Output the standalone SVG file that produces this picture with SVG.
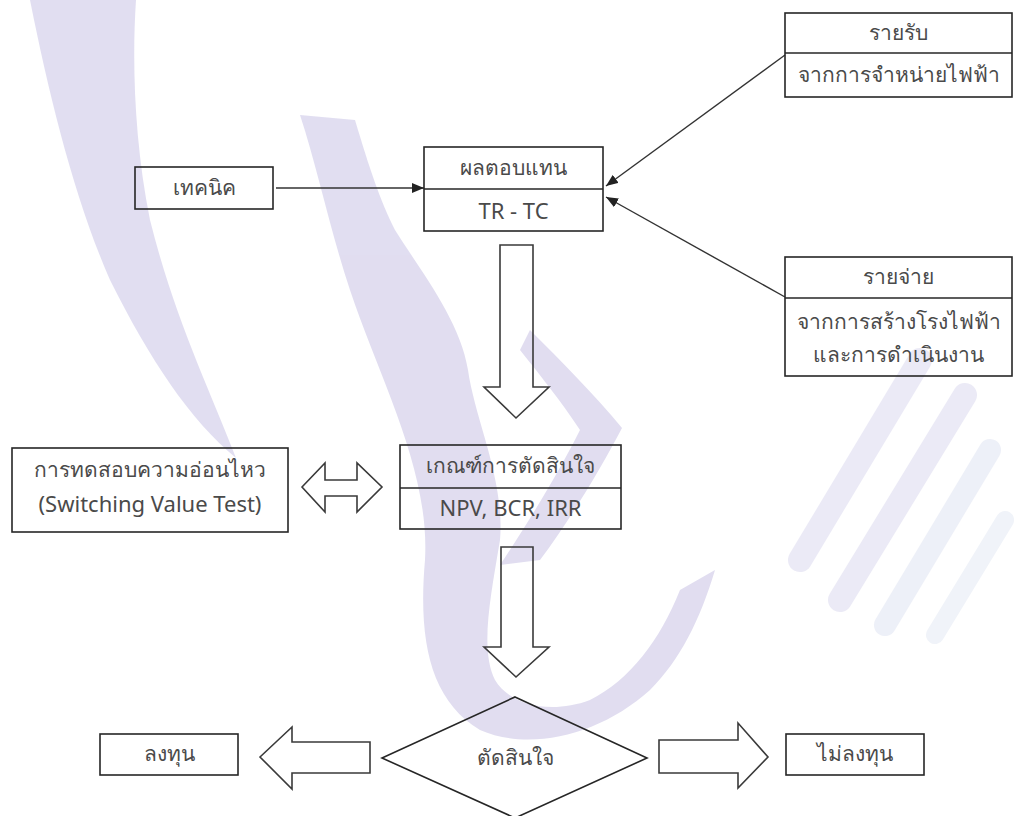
<svg xmlns="http://www.w3.org/2000/svg" width="1014" height="816" viewBox="0 0 1014 816">
<defs>
<style>
.box{fill:none;stroke:#262626;stroke-width:1.6}
.div{stroke:#262626;stroke-width:1.6}
.blk{fill:none;stroke:#3a3a3a;stroke-width:1.6;stroke-linejoin:miter}
.con{stroke:#333;stroke-width:1.4;fill:none}
.t{font-family:"Noto Sans","DejaVu Sans",sans-serif;font-size:21px;fill:#4a4a4a;text-anchor:middle;dominant-baseline:central}
.l{font-size:22px}
.wm{fill:#dcd8ee}
</style>
<marker id="ah" markerUnits="userSpaceOnUse" markerWidth="12" markerHeight="10" refX="12" refY="5" orient="auto">
<path d="M0,0 L12,5 L0,10 z" fill="#222"/>
</marker>
</defs>
<rect width="1014" height="816" fill="#fff"/>
<g id="watermark" opacity="0.85">
<path class="wm" d="M30,0 L136,0 C132,60 134,140 150,220 C175,320 210,390 236,458 C190,420 150,360 110,280 C75,200 50,100 30,0 Z"/>
<path class="wm" d="M300,115 C318,170 330,230 350,290 C380,380 430,470 425,560 C418,640 430,700 480,730 C530,752 600,735 650,690 C680,660 700,620 715,570 L680,590 C660,640 630,680 590,700 C550,715 510,705 495,680 C480,650 490,600 500,540 C505,480 475,420 468,370 C460,320 420,270 395,230 C380,200 370,170 355,120 Z"/>
<path class="wm" d="M530,330 C560,360 595,395 622,428 C600,470 570,520 540,560 L500,565 C530,520 560,470 580,430 C560,400 540,375 520,350 Z"/>
</g>
<g id="sphere" opacity="0.5">
<path d="M800,560 L920,360" stroke="#d8d6ee" stroke-width="24" stroke-linecap="round"/>
<path d="M840,600 L965,395" stroke="#d8d6ee" stroke-width="24" stroke-linecap="round"/>
<path d="M885,625 L990,450" stroke="#dde2f2" stroke-width="22" stroke-linecap="round"/>
<path d="M935,635 L1005,520" stroke="#e2e8f4" stroke-width="18" stroke-linecap="round"/>
</g>
<g id="connectors">
<line class="con" x1="276" y1="188" x2="424" y2="188" marker-end="url(#ah)"/>
<line class="con" x1="785" y1="55" x2="606" y2="186" marker-end="url(#ah)"/>
<line class="con" x1="785" y1="297" x2="606" y2="197" marker-end="url(#ah)"/>
<polygon class="blk" points="500,245 533,245 533,387 549,387 516,418 484,387 500,387"/>
<polygon class="blk" points="501,547 533,547 533,647 549,647 516,677 484,647 501,647"/>
<polygon class="blk" points="302,487 325,463 325,480 357,480 357,463 382,487 357,512 357,496 325,496 325,512"/>
<polygon class="blk" points="260,757 292,727 292,742 370,742 370,773 292,773 292,789"/>
<polygon class="blk" points="659,740 738,740 738,723 768,757 738,788 738,773 659,773"/>
</g>
<g id="n-return">
<rect class="box" x="424" y="147" width="179" height="84"/>
<line class="div" x1="424" y1="189" x2="603" y2="189"/>
<text class="t" x="513.5" y="167">ผลตอบแทน</text>
<text class="t l" x="513.5" y="210">TR - TC</text>
</g>
<g id="n-tech">
<rect class="box" x="135" y="167" width="138" height="42"/>
<text class="t" x="204" y="187">เทคนิค</text>
</g>
<g id="n-revenue">
<rect class="box" x="785" y="13" width="227" height="84"/>
<line class="div" x1="785" y1="53" x2="1012" y2="53"/>
<text class="t" x="898.5" y="32">รายรับ</text>
<text class="t" x="898.5" y="74">จากการจำหน่ายไฟฟ้า</text>
</g>
<g id="n-cost">
<rect class="box" x="785" y="257" width="227" height="119"/>
<line class="div" x1="785" y1="298" x2="1012" y2="298"/>
<text class="t" x="898.5" y="276">รายจ่าย</text>
<text class="t" x="898.5" y="321">จากการสร้างโรงไฟฟ้า</text>
<text class="t" x="898.5" y="354">และการดำเนินงาน</text>
</g>
<g id="n-sens">
<rect class="box" x="12" y="448" width="276" height="84"/>
<text class="t" x="150" y="469">การทดสอบความอ่อนไหว</text>
<text class="t l" x="150" y="503">(Switching Value Test)</text>
</g>
<g id="n-criteria">
<rect class="box" x="400" y="445" width="221" height="84"/>
<line class="div" x1="400" y1="488" x2="621" y2="488"/>
<text class="t" x="510.5" y="465">เกณฑ์การตัดสินใจ</text>
<text class="t l" x="510.5" y="507">NPV, BCR, IRR</text>
</g>
<g id="n-decide">
<polygon class="box" points="515,697 647,758 515,818 382,758"/>
<text class="t" x="515" y="757">ตัดสินใจ</text>
</g>
<g id="n-invest">
<rect class="box" x="100" y="734" width="138" height="41"/>
<text class="t" x="169" y="753">ลงทุน</text>
</g>
<g id="n-noinvest">
<rect class="box" x="786" y="734" width="138" height="41"/>
<text class="t" x="855" y="753">ไม่ลงทุน</text>
</g>
</svg>
